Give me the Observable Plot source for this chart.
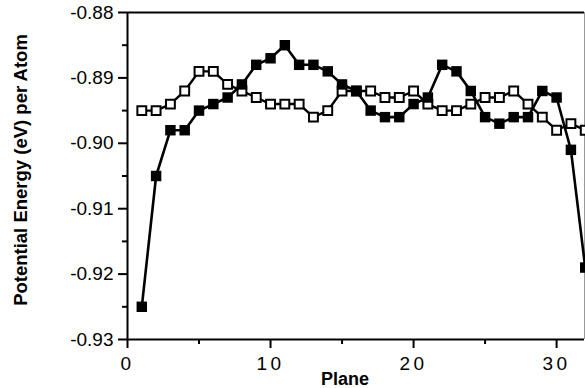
<!DOCTYPE html>
<html>
<head>
<meta charset="utf-8">
<script src="https://cdn.jsdelivr.net/npm/d3@7"></script>
<script src="https://cdn.jsdelivr.net/npm/@observablehq/plot@0.6"></script>
<style>
  html, body { margin: 0; padding: 0; background: #fff; }
  #chart svg { display: block; background: #fff; }
  g[aria-label="x-axis tick label"] text { letter-spacing: 3.5px; font-size: 19px; }
  g[aria-label="y-axis tick label"] text { font-size: 19px; }
</style>
</head>
<body>
<div id="chart"></div>
<script>
// Plane index
const planes = [1,2,3,4,5,6,7,8,9,10,11,12,13,14,15,16,17,18,19,20,21,22,23,24,25,26,27,28,29,30,31,32];
// Filled squares series
const filledSeries = [-0.925, -0.905, -0.898, -0.898, -0.895, -0.894, -0.893, -0.891, -0.888, -0.887, -0.885, -0.888,
  -0.888, -0.889, -0.891, -0.892, -0.895, -0.896, -0.896, -0.894, -0.893, -0.888, -0.889, -0.892,
  -0.896, -0.897, -0.896, -0.896, -0.892, -0.893, -0.901, -0.919];
// Open squares series
const openSeries = [-0.895, -0.895, -0.894, -0.892, -0.889, -0.889, -0.891, -0.892, -0.893, -0.894, -0.894, -0.894,
  -0.896, -0.895, -0.892, -0.892, -0.892, -0.893, -0.893, -0.892, -0.894, -0.895, -0.895, -0.894,
  -0.893, -0.893, -0.892, -0.894, -0.896, -0.898, -0.897, -0.898];
// Axis ticks
const yTicks = [-0.93, -0.92, -0.91, -0.90, -0.89, -0.88];
const yMinorTicks = [-0.925, -0.915, -0.905, -0.895, -0.885];
const xTicks = [0, 10, 20, 30];
const xMinorTicks = [5, 15, 25];
const xLabel = "Plane";
const yLabel = "Potential Energy (eV) per Atom";

const filled = planes.map((p, i) => ({plane: p, energy: filledSeries[i]}));
const open = planes.map((p, i) => ({plane: p, energy: openSeries[i]}));

const font = "'Liberation Sans', Arial, Helvetica, sans-serif";
const xMax = 31.95;

const chart = Plot.plot({
  width: 585,
  height: 388,
  marginLeft: 127,
  marginRight: 1,
  marginTop: 12,
  marginBottom: 49,
  style: {fontFamily: font, fontSize: "19px", color: "#000", background: "#fff"},
  x: {domain: [0, xMax]},
  y: {domain: [-0.93, -0.88]},
  marks: [
    // frame
    Plot.ruleX([xMax], {stroke: "#999", strokeWidth: 1}),
    Plot.ruleY([-0.88], {stroke: "#000", strokeWidth: 2}),
    Plot.ruleY([-0.93], {stroke: "#000", strokeWidth: 2}),
    Plot.ruleX([0], {stroke: "#000", strokeWidth: 2}),
    // axes
    Plot.axisY(yTicks, {tickSize: 9, tickPadding: 5, strokeWidth: 2, tickFormat: d => d.toFixed(2), label: null}),
    Plot.axisY(yMinorTicks, {tickSize: 5, strokeWidth: 2, tickFormat: () => "", label: null}),
    Plot.axisX(xTicks, {tickSize: 9, tickPadding: 8, strokeWidth: 2, tickFormat: d => String(d), label: null}),
    Plot.axisX(xMinorTicks, {tickSize: 5, strokeWidth: 2, tickFormat: () => "", label: null}),
    // open series
    Plot.line(open, {x: "plane", y: "energy", stroke: "#000", strokeWidth: 2.4}),
    Plot.dot(open, {x: "plane", y: "energy", symbol: "square", r: 5, fill: "#fff", stroke: "#000", strokeWidth: 2}),
    // filled series
    Plot.line(filled, {x: "plane", y: "energy", stroke: "#000", strokeWidth: 2.6}),
    Plot.dot(filled, {x: "plane", y: "energy", symbol: "square", r: 5.9, fill: "#000", stroke: "none"})
  ]
});

const svg = d3.select(chart);
svg.append("text")
  .attr("transform", "translate(27,170) rotate(-90)")
  .attr("text-anchor", "middle")
  .attr("font-family", font)
  .attr("font-weight", "bold")
  .attr("font-size", 18.5)
  .attr("fill", "#000")
  .text(yLabel);
svg.append("text")
  .attr("x", 345)
  .attr("y", 385)
  .attr("text-anchor", "middle")
  .attr("font-family", font)
  .attr("font-weight", "bold")
  .attr("font-size", 18)
  .attr("fill", "#000")
  .text(xLabel);

document.getElementById("chart").appendChild(chart);
</script>
</body>
</html>
